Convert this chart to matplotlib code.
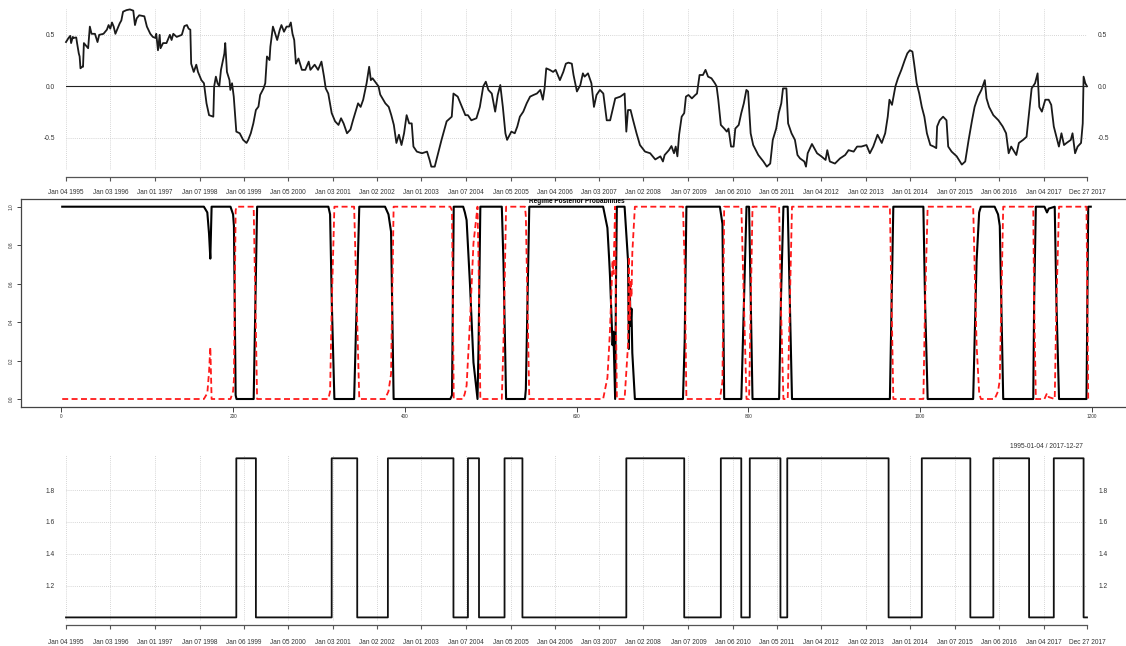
import numpy as np
import pandas as pd
import matplotlib
matplotlib.use('Agg')
import matplotlib.pyplot as plt

W, H = 1126, 646
plt.rcParams['font.family'] = ['Liberation Sans', 'DejaVu Sans']

# weekly observation dates (Wednesdays)
weeks = pd.date_range('1995-01-04', '2017-12-27', freq='W-WED')

tick_labels = ['Jan 04 1995', 'Jan 03 1996', 'Jan 01 1997', 'Jan 07 1998', 'Jan 06 1999',
               'Jan 05 2000', 'Jan 03 2001', 'Jan 02 2002', 'Jan 01 2003', 'Jan 07 2004',
               'Jan 05 2005', 'Jan 04 2006', 'Jan 03 2007', 'Jan 02 2008', 'Jan 07 2009',
               'Jan 06 2010', 'Jan 05 2011', 'Jan 04 2012', 'Jan 02 2013', 'Jan 01 2014',
               'Jan 07 2015', 'Jan 06 2016', 'Jan 04 2017', 'Dec 27 2017']

# rolling correlation: week number -> value
corr_wk = [0, 3, 5, 6, 8, 9, 12, 13, 15, 16, 17, 19, 20, 21, 24, 26, 28, 30, 34, 37, 39, 44, 48, 50,
           52, 54, 56, 58, 60, 63, 65, 67, 71, 75, 79, 81, 83, 86, 92, 95, 99, 102, 105, 106, 108,
           110, 111, 114, 118, 122, 124, 126, 130, 136, 139, 142, 144, 146, 147, 150, 153, 155, 159,
           162, 165, 168, 173, 174, 176, 178, 180, 182, 184, 186, 187, 189, 192, 193, 195, 197, 200,
           204, 208, 212, 214, 217, 220, 223, 226, 228, 232, 234, 236, 239, 240, 243, 245, 248, 251,
           253, 256, 259, 262, 264, 266, 268, 270, 273, 277, 281, 285, 287, 292, 296, 300, 303, 305,
           308, 312, 316, 320, 323, 326, 330, 334, 337, 343, 346, 349, 353, 356, 358, 360, 363, 367,
           369, 375, 379, 382, 385, 388, 391, 394, 397, 400, 403, 406, 408, 412, 418, 424, 427, 429,
           433, 437, 441, 447, 453, 455, 460, 465, 469, 472, 476, 482, 486, 490, 493, 496, 500, 504,
           507, 510, 513, 516, 518, 523, 527, 530, 533, 537, 541, 545, 549, 553, 557, 560, 562, 564,
           568, 572, 575, 580, 584, 587, 590, 594, 596, 600, 604, 607, 609, 613, 617, 620, 623, 627,
           631, 635, 639, 641, 645, 651, 656, 658, 660, 663, 666, 670, 674, 680, 686, 692, 698, 701,
           703, 708, 711, 714, 716, 718, 720, 723, 726, 728, 731, 735, 739, 741, 744, 748, 751, 754,
           758, 762, 764, 766, 769, 773, 776, 778, 781, 784, 786, 790, 793, 796, 799, 801, 804, 807,
           813, 819, 823, 827, 830, 834, 837, 840, 842, 846, 848, 852, 856, 859, 862, 867, 869, 871,
           876, 882, 887, 892, 894, 897, 903, 909, 915, 919, 925, 929, 934, 940, 944, 948, 953, 958,
           962, 965, 967, 970, 974, 977, 981, 985, 988, 991, 994, 996, 999, 1002, 1005, 1008, 1011,
           1015, 1019, 1022, 1023, 1026, 1030, 1034, 1036, 1040, 1046, 1052, 1056, 1060, 1064, 1067,
           1071, 1075, 1079, 1081, 1084, 1089, 1095, 1100, 1104, 1107, 1110, 1116, 1119, 1124, 1128,
           1131, 1134, 1138, 1141, 1143, 1146, 1150, 1154, 1157, 1160, 1164, 1166, 1169, 1172, 1175,
           1180, 1182, 1185, 1188, 1192, 1194, 1195, 1197, 1199]
corr_val = [0.43, 0.47, 0.49, 0.42, 0.48, 0.47, 0.475, 0.42, 0.32, 0.29, 0.175, 0.19, 0.19, 0.42,
            0.39, 0.37, 0.58, 0.51, 0.51, 0.43, 0.50, 0.51, 0.55, 0.595, 0.56, 0.62, 0.58, 0.51,
            0.55, 0.61, 0.64, 0.725, 0.74, 0.747, 0.735, 0.595, 0.66, 0.69, 0.68, 0.58, 0.51, 0.48,
            0.47, 0.51, 0.35, 0.50, 0.37, 0.42, 0.42, 0.50, 0.45, 0.51, 0.48, 0.50, 0.585, 0.595,
            0.56, 0.55, 0.22, 0.14, 0.21, 0.14, 0.06, 0.03, -0.165, -0.28, -0.295, 0.0, 0.094, 0.03,
            0.0, 0.16, 0.24, 0.32, 0.42, 0.14, 0.06, -0.035, 0.03, -0.10, -0.44, -0.456, -0.52,
            -0.55, -0.52, -0.456, -0.36, -0.23, -0.197, -0.084, -0.02, 0.03, 0.29, 0.255, 0.385,
            0.58, 0.53, 0.45, 0.547, 0.595, 0.53, 0.58, 0.58, 0.62, 0.51, 0.45, 0.22, 0.27, 0.16,
            0.16, 0.24, 0.16, 0.21, 0.16, 0.24, 0.094, -0.02, -0.07, -0.26, -0.34, -0.375, -0.31,
            -0.36, -0.456, -0.42, -0.33, -0.165, -0.2, -0.13, 0.03, 0.19, 0.06, 0.078, 0.045, 0.0,
            -0.08, -0.165, -0.2, -0.28, -0.375, -0.55, -0.47, -0.57, -0.456, -0.28, -0.36, -0.36,
            -0.585, -0.634, -0.65, -0.634, -0.715, -0.78, -0.78, -0.65, -0.52, -0.34, -0.295, -0.07,
            -0.10, -0.2, -0.28, -0.28, -0.33, -0.31, -0.2, 0.0, 0.045, -0.035, -0.07, -0.246,
            -0.084, 0.013, -0.2, -0.456, -0.52, -0.44, -0.456, -0.39, -0.295, -0.246, -0.165, -0.10,
            -0.084, -0.07, -0.035, -0.13, -0.02, 0.175, 0.16, 0.14, 0.16, 0.06, 0.14, 0.22, 0.23,
            0.22, 0.11, -0.05, 0.013, 0.126, 0.094, 0.126, 0.03, -0.2, -0.084, -0.035, -0.07, -0.33,
            -0.33, -0.26, -0.117, -0.10, -0.07, -0.44, -0.23, -0.23, -0.33, -0.456, -0.57, -0.634,
            -0.65, -0.71, -0.68, -0.73, -0.667, -0.62, -0.58, -0.65, -0.585, -0.68, -0.47, -0.295,
            -0.26, -0.10, -0.084, -0.117, -0.084, -0.07, 0.11, 0.11, 0.16, 0.094, 0.078, 0.03, 0.0,
            -0.13, -0.375, -0.41, -0.44, -0.41, -0.585, -0.585, -0.41, -0.375, -0.26, -0.165,
            -0.035, -0.05, -0.456, -0.57, -0.667, -0.73, -0.78, -0.75, -0.52, -0.41, -0.26, -0.165,
            -0.02, -0.02, -0.36, -0.456, -0.52, -0.667, -0.70, -0.73, -0.78, -0.65, -0.56, -0.65,
            -0.68, -0.715, -0.62, -0.73, -0.75, -0.70, -0.667, -0.62, -0.634, -0.585, -0.585, -0.57,
            -0.65, -0.585, -0.47, -0.55, -0.456, -0.295, -0.13, -0.18, 0.0, 0.078, 0.16, 0.255,
            0.32, 0.35, 0.337, 0.22, 0.03, -0.07, -0.2, -0.295, -0.456, -0.57, -0.585, -0.60, -0.39,
            -0.33, -0.295, -0.33, -0.585, -0.634, -0.68, -0.76, -0.73, -0.52, -0.33, -0.2, -0.10,
            -0.035, 0.06, -0.117, -0.2, -0.28, -0.33, -0.39, -0.456, -0.65, -0.585, -0.667, -0.55,
            -0.52, -0.49, -0.26, -0.02, 0.03, 0.126, -0.2, -0.246, -0.13, -0.13, -0.18, -0.39,
            -0.52, -0.585, -0.456, -0.57, -0.55, -0.52, -0.456, -0.65, -0.585, -0.55, -0.36, 0.094,
            0.03, 0.0]

# posterior probability of regime 1 (observation index -> probability)
prob_x = [1, 166, 170, 172, 173.5, 175, 197, 200, 201, 203, 204, 224, 226, 228, 311, 313, 315,
          318, 341, 344, 347, 377, 381, 384, 387, 453, 455, 457, 468, 470, 472, 476, 480, 484.7,
          486, 488, 513, 515, 518, 540, 541, 545, 631, 636, 638, 639, 641, 642, 643, 645, 646,
          647, 656, 660, 661, 662, 663, 664, 665, 668, 724, 726, 728, 767, 770, 772, 792, 795,
          798, 801, 805, 836, 838, 841, 846, 851, 965, 967, 969, 1004, 1006, 1009, 1062, 1066,
          1069, 1071, 1087, 1091, 1093, 1097, 1132, 1133, 1135, 1145, 1148, 1150, 1157, 1159,
          1162, 1194, 1195, 1196, 1199]
prob_p1 = [1.0, 1.0, 0.97, 0.86, 0.73, 1.0, 1.0, 0.96, 0.9, 0.02, 0.0, 0.0, 0.5, 1.0, 1.0, 0.96,
           0.5, 0.0, 0.0, 0.5, 1.0, 1.0, 0.96, 0.87, 0.0, 0.0, 0.02, 1.0, 1.0, 0.97, 0.93, 0.59,
           0.19, 0.0, 0.3, 1.0, 1.0, 0.7, 0.0, 0.0, 0.05, 1.0, 1.0, 0.89, 0.73, 0.64, 0.4, 0.28,
           0.35, 0.0, 0.6, 1.0, 1.0, 0.72, 0.26, 0.59, 0.38, 0.47, 0.24, 0.0, 0.0, 0.3, 1.0, 1.0,
           0.91, 0.0, 0.0, 0.5, 1.0, 1.0, 0.0, 0.0, 0.5, 1.0, 1.0, 0.0, 0.0, 0.5, 1.0, 1.0, 0.5,
           0.0, 0.0, 0.72, 0.97, 1.0, 1.0, 0.96, 0.9, 0.0, 0.0, 0.5, 1.0, 1.0, 0.97, 0.99, 1.0,
           0.5, 0.0, 0.0, 0.5, 1.0, 1.0]

# most likely regime: spans of weeks spent in regime 2
regime2_spans = [(200, 223), (312, 342), (378, 455), (472, 485), (515, 536), (658, 726),
                 (769, 793), (803, 839), (847, 966), (1005, 1062), (1089, 1131), (1160, 1195)]


def px_axes(left, top, right, bottom):
    return fig.add_axes([left / W, 1 - bottom / H, (right - left) / W, (bottom - top) / H])


def style_xts(ax, outward):
    for side in ['left', 'right', 'top']:
        ax.spines[side].set_visible(False)
    ax.spines['bottom'].set_position(('outward', outward))
    ax.spines['bottom'].set_color('#555555')
    ax.spines['bottom'].set_linewidth(0.9)
    ax.set_xlim(weeks[0], weeks[-1])
    ax.set_xticks(tick_dates)
    ax.set_xticklabels(tick_labels)
    ax.grid(True, color='#c8c8c8', linestyle=(0, (1, 1.5)), linewidth=0.6)
    ax.set_axisbelow(True)
    ax.tick_params(axis='y', length=0, labelsize=4.8, labelcolor='#333333',
                   labelleft=True, labelright=True, pad=8)
    ax.tick_params(axis='x', direction='out', length=3, width=0.8, color='#555555',
                   labelsize=4.7, labelcolor='#333333')


tick_dates = pd.to_datetime(tick_labels, format='%b %d %Y')

fig = plt.figure(figsize=(W / 100, H / 100), dpi=100)

# correlation panel
ax1 = px_axes(66, 9, 1087, 170)
ax1.plot(weeks[corr_wk], corr_val, color='#1a1a1a', linewidth=1.3, clip_on=False)
ax1.axhline(0, color='#222222', linewidth=0.8)
ax1.set_ylim(-0.8126, 0.751)
ax1.set_yticks([-0.5, 0.0, 0.5])
ax1.set_yticklabels(['-0.5', '0.0', '0.5'])
style_xts(ax1, 4.8)
ax1.tick_params(axis='x', pad=6)

# regime posterior probabilities
ax2 = px_axes(21, 199, 1132, 406.7)
p1 = np.array(prob_p1)
ax2.plot(prob_x, p1, color='black', linewidth=1.5)
ax2.plot(prob_x, 1 - p1, color='#ff1a1a', linewidth=1.3, dashes=(3.3, 1.9))
ax2.set_xlim(-47, 1247)
ax2.set_ylim(-0.04, 1.04)
ax2.set_xticks(np.arange(0, 1201, 200))
ax2.set_yticks(np.arange(0, 1.01, 0.2))
ax2.set_yticklabels(['%.1f' % v for v in np.arange(0, 1.01, 0.2)], rotation=90, va='center')
for sp in ax2.spines.values():
    sp.set_color('#444444')
    sp.set_linewidth(0.9)
ax2.tick_params(axis='both', labelsize=3.4, labelcolor='#333333', color='#444444', width=0.7)
ax2.tick_params(axis='x', length=3.6, pad=1.5)
ax2.tick_params(axis='y', length=3, pad=2)
ax2.text(0.5, 0.983, 'Regime Posterior Probabilities', transform=ax2.transAxes,
         ha='center', va='baseline', fontsize=4.7, fontweight='bold', clip_on=True)

# most likely regime path
state = np.ones(len(weeks))
for a, b in regime2_spans:
    state[a:b] = 2
ax3 = px_axes(66, 455, 1087, 621)
ax3.plot(weeks, state, color='#111111', linewidth=1.3, drawstyle='steps-post', clip_on=False)
ax3.set_ylim(0.9774, 2.0207)
ax3.set_yticks([1.2, 1.4, 1.6, 1.8])
ax3.set_yticklabels(['1.2', '1.4', '1.6', '1.8'])
style_xts(ax3, 2.9)
ax3.tick_params(axis='x', pad=7)
fig.text(1083 / W, 1 - 446 / H, '%s / %s' % (weeks[0].strftime('%Y-%m-%d'), weeks[-1].strftime('%Y-%m-%d')),
         ha='right', va='center', fontsize=4.8, color='#333333')

fig.savefig('out.png', dpi=100)
